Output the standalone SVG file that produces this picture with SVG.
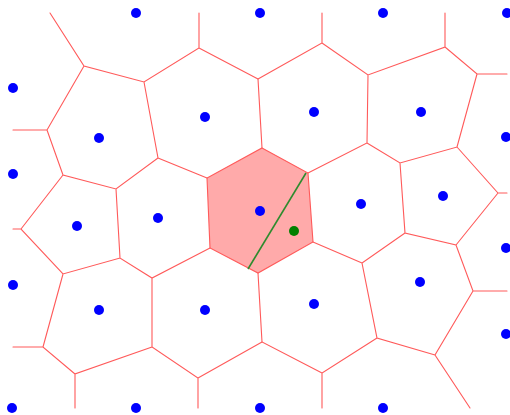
<svg xmlns="http://www.w3.org/2000/svg" width="510" height="415" viewBox="0 0 510 415">
<style>
.e{stroke:#ff5a5a;stroke-width:1.1;fill:none;stroke-linecap:round}
.p{fill:#0000ff}
</style>
<rect width="510" height="415" fill="#ffffff"/>
<g id="cell">
<polygon points="262,148 308,173 313,242 258,273 210,248 207,178" fill="#ffaaaa" stroke="#ff5a5a" stroke-width="1.1"/>
</g>
<g id="edges" class="e">
<path d="M50,13L84,66L144,82L199,48L199,13M199,48L258,79M13,130L47,130L84,66M47,130L63,175L116,189L158,158L144,82M158,158L207,178M63,175L21,229M116,189L120,258M13,229L21,229L63,274L120,258L152,278L210,248M152,278L152,347L198,378L198,408M198,378L262,342M152,347L75,374L75,408M75,374L43,347L13,347M43,347L63,274"/>
<path d="M258,79L322,43L322,13M258,79L262,148M322,43L368,75L445,47L445,13M445,47L477,74L507,74M477,74L457,147M368,75L367,143L308,173M367,143L400,163L457,147L498,193L507,193M498,193L456,245M400,163L405,233L456,245L473,291L507,291M473,291L435,355L470,408M435,355L377,338L362,263L405,233M362,263L313,242M377,338L322,373L322,408M322,373L262,342L258,273"/>
</g>
<g id="sites">
<circle class="p" cx="136" cy="13" r="5"/>
<circle class="p" cx="260" cy="13" r="5"/>
<circle class="p" cx="383" cy="13" r="5"/>
<circle class="p" cx="507" cy="13" r="5"/>
<circle class="p" cx="13" cy="88" r="5"/>
<circle class="p" cx="99" cy="138" r="5"/>
<circle class="p" cx="205" cy="117" r="5"/>
<circle class="p" cx="314" cy="112" r="5"/>
<circle class="p" cx="421" cy="112" r="5"/>
<circle class="p" cx="506" cy="137" r="5"/>
<circle class="p" cx="13" cy="174" r="5"/>
<circle class="p" cx="77" cy="226" r="5"/>
<circle class="p" cx="158" cy="218" r="5"/>
<circle class="p" cx="260" cy="211" r="5"/>
<circle class="p" cx="361" cy="204" r="5"/>
<circle class="p" cx="443" cy="196" r="5"/>
<circle class="p" cx="13" cy="285" r="5"/>
<circle class="p" cx="99" cy="310" r="5"/>
<circle class="p" cx="205" cy="310" r="5"/>
<circle class="p" cx="314" cy="304" r="5"/>
<circle class="p" cx="420" cy="282" r="5"/>
<circle class="p" cx="506" cy="248" r="5"/>
<circle class="p" cx="506" cy="334" r="5"/>
<circle class="p" cx="12" cy="408" r="5"/>
<circle class="p" cx="136" cy="408" r="5"/>
<circle class="p" cx="260" cy="408" r="5"/>
<circle class="p" cx="383" cy="408" r="5"/>
</g>
<g id="query">
<line x1="306" y1="173" x2="248" y2="269" stroke="#2e8b2e" stroke-width="1.6"/>
<circle cx="294" cy="231" r="5" fill="#008000"/>
</g>
</svg>
